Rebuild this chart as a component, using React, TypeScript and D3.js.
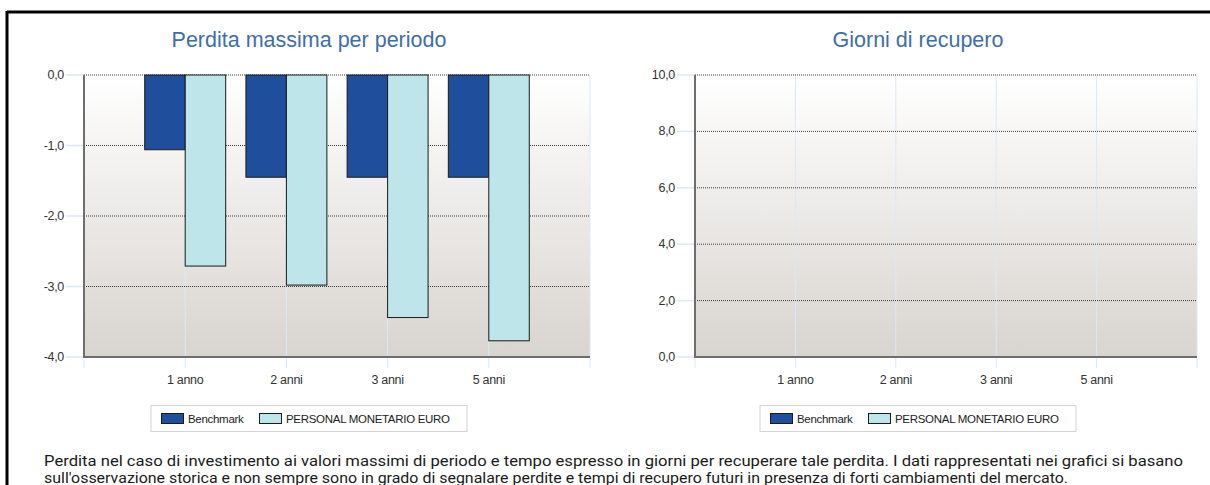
import React from "react";
import * as d3 from "d3";

const categories = ["1 anno", "2 anni", "3 anni", "5 anni"];
const seriesNames = ["Benchmark", "PERSONAL MONETARIO EURO"];
const seriesColors = ["#1f4e9c", "#bde5ea"];

// perdita massima (%)
const benchmarkLoss = [-1.06, -1.45, -1.45, -1.45];
const fundLoss = [-2.71, -2.98, -3.44, -3.77];

// giorni di recupero: nessun valore
const benchmarkDays = [0, 0, 0, 0];
const fundDays = [0, 0, 0, 0];

const lossTicks = [0, -1, -2, -3, -4];
const daysTicks = [10, 8, 6, 4, 2, 0];

const noteLines = [
  "Perdita nel caso di investimento ai valori massimi di periodo e tempo espresso in giorni per recuperare tale perdita. I dati rappresentati nei grafici si basano",
  "sull'osservazione storica e non sempre sono in grado di segnalare perdite e tempi di recupero futuri in presenza di forti cambiamenti del mercato.",
];

const fmt = (v: number) => v.toFixed(1).replace(".", ",");

interface PanelProps {
  id: string;
  title: string;
  left: number;
  right: number;
  domain: [number, number];
  ticks: number[];
  values: number[][];
}

const Panel: React.FC<PanelProps> = ({ id, title, left, right, domain, ticks, values }) => {
  const top = 75;
  const bottom = 357;

  const y = d3.scaleLinear().domain(domain).range([bottom, top]);
  const x = d3
    .scaleLinear()
    .domain([0, categories.length + 1])
    .range([left, right]);
  const step = x(1) - x(0);
  const inner = d3
    .scaleBand<string>()
    .domain(seriesNames)
    .range([-step * 0.4, step * 0.4]);

  const base = y(Math.max(domain[0], Math.min(domain[1], 0)));
  // titolo e legenda sono centrati un po' a sinistra del centro dell'area
  const center = (left + right) / 2 - 28;
  const legendLeft = center - 158;

  return (
    <g>
      <defs>
        <linearGradient id={`bg-${id}`} x1="0" y1="0" x2="0" y2="1">
          <stop offset="0%" stopColor="#ffffff" />
          <stop offset="100%" stopColor="#d8d4cf" />
        </linearGradient>
      </defs>

      <text
        x={center}
        y={47}
        textAnchor="middle"
        fontFamily="Liberation Sans, Arial, sans-serif"
        fontSize={21.5}
        fill="#3d6fa8"
      >
        {title}
      </text>

      <rect x={left} y={top} width={right - left} height={bottom - top} fill={`url(#bg-${id})`} />

      {/* griglia verticale */}
      {d3.range(categories.length + 2).map((i) => (
        <line
          key={`v${i}`}
          x1={x(i)}
          x2={x(i)}
          y1={top}
          y2={bottom + 11}
          stroke="#dce8f6"
          strokeWidth={1}
        />
      ))}

      {/* griglia orizzontale e etichette */}
      {ticks.map((t) => (
        <g key={`t${t}`}>
          <line x1={left - 18} x2={left} y1={y(t)} y2={y(t)} stroke="#dce8f6" strokeWidth={1.5} />
          <line
            x1={left}
            x2={right}
            y1={y(t)}
            y2={y(t)}
            stroke="#3a3a3a"
            strokeWidth={1}
            strokeDasharray="1,1"
          />
          <text
            x={left - 20}
            y={y(t) + 4}
            textAnchor="end"
            fontFamily="Liberation Sans, Arial, sans-serif"
            fontSize={12.5}
            fill="#333"
            letterSpacing={-0.3}
          >
            {fmt(t)}
          </text>
        </g>
      ))}

      {/* barre */}
      {categories.map((c, i) =>
        seriesNames.map((s, j) => {
          const v = values[j][i];
          if (v === 0) return null;
          const y0 = Math.min(y(v), base);
          const h = Math.abs(y(v) - base);
          return (
            <rect
              key={`${c}-${s}`}
              x={x(i + 1) + (inner(s) ?? 0)}
              y={y0}
              width={inner.bandwidth()}
              height={h}
              fill={seriesColors[j]}
              stroke="#1a1a1a"
              strokeWidth={1}
            />
          );
        })
      )}

      {/* assi */}
      <line x1={left} x2={left} y1={top} y2={bottom} stroke="#6e6e6e" strokeWidth={2} />
      <line x1={left - 1} x2={right} y1={bottom} y2={bottom} stroke="#6e6e6e" strokeWidth={2} />

      {categories.map((c, i) => (
        <text
          key={c}
          x={x(i + 1)}
          y={384}
          textAnchor="middle"
          fontFamily="Liberation Sans, Arial, sans-serif"
          fontSize={12.5}
          fill="#333"
          letterSpacing={-0.3}
        >
          {c}
        </text>
      ))}

      {/* legenda */}
      <rect x={legendLeft} y={405.5} width={316} height={26} fill="#fff" stroke="#d4d4d4" strokeWidth={1} />
      {seriesNames.map((s, j) => {
        const lx = legendLeft + 10 + j * 98;
        return (
          <g key={s}>
            <rect x={lx + 0.5} y={413.5} width={22} height={10} fill={seriesColors[j]} stroke="#1a1a1a" strokeWidth={1} />
            <text
              x={lx + 27}
              y={422.5}
              fontFamily="Liberation Sans, Arial, sans-serif"
              fontSize={11.5}
              fill="#222"
              letterSpacing={-0.3}
            >
              {s}
            </text>
          </g>
        );
      })}
    </g>
  );
};

const App: React.FC = () => {
  return (
    <svg
      width={1210}
      height={485}
      style={{ position: "absolute", left: 0, top: 0, background: "#fff" }}
    >
      <rect x={0} y={0} width={1210} height={485} fill="#fff" />
      {/* cornice */}
      <line x1={7} x2={1210} y1={12} y2={12} stroke="#000" strokeWidth={3} />
      <line x1={7} x2={7} y1={11} y2={485} stroke="#000" strokeWidth={3} />

      <Panel
        id="loss"
        title="Perdita massima per periodo"
        left={84}
        right={590}
        domain={[-4, 0]}
        ticks={lossTicks}
        values={[benchmarkLoss, fundLoss]}
      />
      <Panel
        id="days"
        title="Giorni di recupero"
        left={695}
        right={1197}
        domain={[0, 10]}
        ticks={daysTicks}
        values={[benchmarkDays, fundDays]}
      />

      {noteLines.map((line, i) => (
        <text
          key={i}
          x={44}
          y={466 + i * 17}
          fontFamily="Roboto, sans-serif"
          fontSize={14}
          fill="#1a1a1a"
          textLength={i === 0 ? 1139 : 1024}
          lengthAdjust="spacingAndGlyphs"
        >
          {line}
        </text>
      ))}
    </svg>
  );
};

export default App;
